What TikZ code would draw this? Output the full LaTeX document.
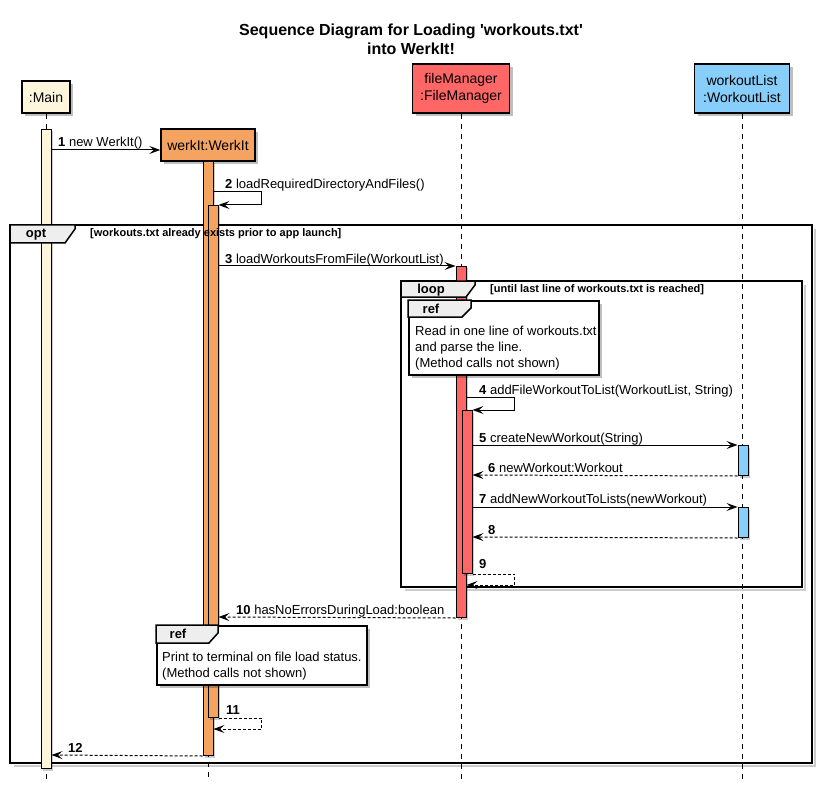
\documentclass[tikz,border=0pt]{standalone}
\usepackage{fontspec}
\setmainfont{Liberation Sans}[Ligatures=TeXOff]
\usetikzlibrary{arrows.meta,shadows}
\definecolor{cMain}{HTML}{FEF6DC}
\definecolor{cWerk}{HTML}{F4A460}
\definecolor{cFM}{HTML}{FF6666}
\definecolor{cWL}{HTML}{87CEFA}
\definecolor{cTab}{HTML}{EEEEEE}
\tikzset{
  shad/.style={drop shadow={shadow xshift=3pt,shadow yshift=-3pt,fill=black,opacity=0.25}},
  part/.style={draw,line width=1.5pt,shad,align=center,inner sep=0pt,font=\fontsize{14}{17}\selectfont},
  actbar/.style={draw,line width=1pt,minimum width=10pt,inner sep=0pt,anchor=north,
     drop shadow={shadow xshift=2pt,shadow yshift=-2pt,fill=black,opacity=0.2}},
  life/.style={line width=1pt,dash pattern=on 5pt off 5pt},
  msg/.style={line width=1pt,-{Stealth[length=11pt,width=8pt,inset=4.5pt]}},
  ret/.style={msg,dash pattern=on 3pt off 2pt},
  lbl/.style={anchor=base west,inner sep=0pt,font=\fontsize{13}{15}\selectfont},
  frm/.style={line width=2pt},
  fshad/.style={line width=2pt,black,opacity=0.2},
  tab/.style={fill=cTab,draw,line width=1.5pt},
  tabtxt/.style={inner sep=0pt,font=\bfseries\fontsize{13}{15}\selectfont},
  cond/.style={anchor=west,inner sep=0pt,font=\bfseries\fontsize{11}{13}\selectfont},
  refbox/.style={draw,fill=white,line width=1.5pt,shad,anchor=north west,inner sep=0pt},
  note/.style={anchor=base west,inner sep=0pt,font=\fontsize{13}{15}\selectfont},
  ttl/.style={anchor=base,inner sep=0pt,font=\bfseries\fontsize{16}{19}\selectfont},
}
\begin{document}
\begin{tikzpicture}[x=1pt,y=-1pt]
\useasboundingbox (0,0) rectangle (824,786);

% title
\node[ttl] (t1) at (411,36) {Sequence Diagram for Loading 'workouts.txt'};
\node[ttl] (t2) at (411,55) {into WerkIt!};

% frames (outline)
\draw[fshad] (14,766) -- (815,766) -- (815,229);
\draw[frm] (10,225) rectangle (812,763);
\draw[fshad] (405,590) -- (805,590) -- (805,285);
\draw[frm] (401,281) rectangle (802,587);

% participants
\node[part,fill=cMain,minimum width=48pt,minimum height=32pt] (main) at (46,97) {:Main};
\node[part,fill=cWerk,minimum width=94pt,minimum height=32pt] (werk) at (208,145) {werkIt:WerkIt};
\node[part,fill=cFM,minimum width=97pt,minimum height=49pt] (fm) at (461,88.5) {fileManager\\:FileManager};
\node[part,fill=cWL,minimum width=95pt,minimum height=49pt] (wl) at (742,88.5) {workoutList\\:WorkoutList};

% lifelines
\coordinate (bot) at (0,781);
\draw[life] (main.south) -- (main.south |- bot);
\draw[life] (werk.south) -- (werk.south |- bot);
\draw[life] (fm.south) -- (fm.south |- bot);
\draw[life] (wl.south) -- (wl.south |- bot);

% activations
\node[actbar,fill=cMain,minimum height=639pt] (mainA) at (46,129) {};
\node[actbar,fill=cWerk,minimum height=594pt] (werkA) at (208,161) {};
\node[actbar,fill=cWerk,minimum height=512pt] (werkB) at (213,205) {};
\node[actbar,fill=cFM,minimum height=351pt] (fmA) at (461,266) {};
\node[actbar,fill=cFM,minimum height=163pt] (fmB) at (467,410) {};
\node[actbar,fill=cWL,minimum height=30pt] (wlA) at (743,445) {};
\node[actbar,fill=cWL,minimum height=30pt] (wlB) at (743,507) {};

% frame tabs and guards
\filldraw[tab] (10,225) -- (75,225) -- (75,229) -- (65,243) -- (10,243) -- cycle;
\node[tabtxt] (topt) at (36,235) {opt};
\node[cond] (c1) at (90,234) {[workouts.txt already exists prior to app launch]};
\filldraw[tab] (401,281) -- (475,281) -- (475,285) -- (466,297) -- (401,297) -- cycle;
\node[tabtxt] (tloop) at (431,290) {loop};
\node[cond] (c2) at (490,290) {[until last line of workouts.txt is reached]};

% ref boxes
\node[refbox,minimum width=190pt,minimum height=74pt] (ref1) at (408,300) {};
\filldraw[tab] (408,300) -- (471,300) -- (471,308) -- (462,317) -- (408,317) -- cycle;
\node[tabtxt] (tref1) at (431,308.5) {ref};
\node[note] (n1a) at (415,335) {Read in one line of workouts.txt};
\node[note] (n1b) at (415,351) {and parse the line.};
\node[note] (n1c) at (415,367) {(Method calls not shown)};

\node[refbox,minimum width=210pt,minimum height=59pt] (ref2) at (156,625) {};
\filldraw[tab] (156,625) -- (218,625) -- (218,633) -- (209,643) -- (156,643) -- cycle;
\node[tabtxt] (tref2) at (178,634) {ref};
\node[note] (n2a) at (162,661) {Print to terminal on file load status.};
\node[note] (n2b) at (162,677) {(Method calls not shown)};

% message y positions
\coordinate (y1) at (0,150);
\coordinate (y2) at (0,192);
\coordinate (y3) at (0,266);
\coordinate (y4) at (0,397);
\coordinate (y5) at (0,445);
\coordinate (y6) at (0,475);
\coordinate (y7) at (0,507);
\coordinate (y8) at (0,537);
\coordinate (y9) at (0,585);
\coordinate (y10) at (0,617);
\coordinate (y11) at (0,729);
\coordinate (y12) at (0,755);

% messages
\draw[msg] (mainA.east |- y1) -- (werk.west |- y1);
\draw[msg] (werkA.east |- y2) -- ++(48,0) |- (werkB.north east);
\draw[msg] (werkB.east |- y3) -- (fmA.north west);
\draw[msg] (fmA.east |- y4) -- ++(48,0) |- (fmB.north east);
\draw[msg] (fmB.east |- y5) -- (wlA.north west);
\draw[ret] (wlA.south west) -- (fmB.east |- y6);
\draw[msg] (fmB.east |- y7) -- (wlB.north west);
\draw[ret] (wlB.south west) -- (fmB.east |- y8);
\draw[ret] (fmB.south east) -- ++(42,0) |- (fmA.east |- y9);
\draw[ret] (fmA.south west) -- (werkB.east |- y10);
\draw[ret] (werkB.south east) -- ++(43,0) |- (werkA.east |- y11);
\draw[ret] (werkA.south west) -- (mainA.east |- y12);

% message labels
\node[lbl] (l1) at (58,147) {\textbf{1} new WerkIt()};
\node[lbl] (l2) at (225,189) {\textbf{2} loadRequiredDirectoryAndFiles()};
\node[lbl] (l3) at (225,263) {\textbf{3} loadWorkoutsFromFile(WorkoutList)};
\node[lbl] (l4) at (479,394) {\textbf{4} addFileWorkoutToList(WorkoutList, String)};
\node[lbl] (l5) at (479,442) {\textbf{5} createNewWorkout(String)};
\node[lbl] (l6) at (488,472) {\textbf{6} newWorkout:Workout};
\node[lbl] (l7) at (479,503) {\textbf{7} addNewWorkoutToLists(newWorkout)};
\node[lbl] (l8) at (488,534) {\textbf{8}};
\node[lbl] (l9) at (479,568) {\textbf{9}};
\node[lbl] (l10) at (236,614) {\textbf{10} hasNoErrorsDuringLoad:boolean};
\node[lbl] (l11) at (226,714) {\textbf{11}};
\node[lbl] (l12) at (68,752) {\textbf{12}};
\end{tikzpicture}
\end{document}
